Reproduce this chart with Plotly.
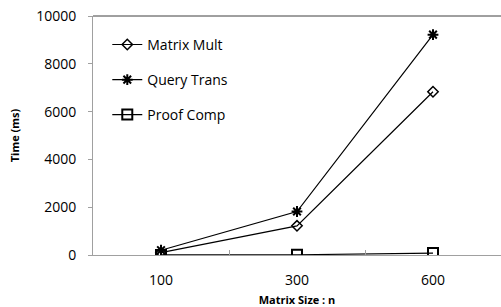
import plotly.graph_objects as go

categories = ["100", "300", "600"]
matrix_mult = [100, 1220, 6830]
query_trans = [200, 1820, 9220]
proof_comp = [5, 10, 80]

font = "Open Sans, Liberation Sans, sans-serif"
fig = go.Figure()
fig.add_trace(go.Scatter(x=categories, y=matrix_mult, name="Matrix Mult", mode="lines+markers",
                         legend="legend",
                         line=dict(color="black", width=1.2),
                         marker=dict(symbol="diamond-open", size=8, color="black", line=dict(width=1.5))))
fig.add_trace(go.Scatter(x=categories, y=query_trans, name="Query Trans", mode="lines+markers",
                         legend="legend2",
                         line=dict(color="black", width=1.2),
                         marker=dict(symbol="asterisk-open", size=9, color="black", line=dict(width=2))))
fig.add_trace(go.Scatter(x=categories, y=proof_comp, name="Proof Comp", mode="lines+markers",
                         legend="legend3",
                         line=dict(color="black", width=1.2),
                         marker=dict(symbol="square-open", size=10, color="black", line=dict(width=2))))

leg = dict(xanchor="left", yanchor="middle", bgcolor="rgba(0,0,0,0)", font=dict(size=14), itemwidth=30)
fig.update_layout(
    width=501, height=307,
    margin=dict(l=93, r=0, t=16, b=52),
    plot_bgcolor="white", paper_bgcolor="white",
    font=dict(family=font, size=14, color="black"),
    showlegend=True,
    legend=dict(leg, x=0.035, y=0.879),
    legend2=dict(leg, x=0.035, y=0.732),
    legend3=dict(leg, x=0.035, y=0.586),
    xaxis=dict(type="category", range=[-0.5, 2.5], showgrid=False, showline=True,
               linecolor="#a0a0a0", linewidth=1, ticks="inside", ticklen=5, tickcolor="#a0a0a0",
               tickson="boundaries", tickfont=dict(size=14), ticklabelstandoff=12,
               title=dict(text="<b>Matrix Size : n</b>", font=dict(size=11), standoff=8)),
    yaxis=dict(range=[0, 10000], dtick=2000, tickformat="d", showgrid=False, showline=True, zeroline=False,
               linecolor="#a0a0a0", linewidth=1, ticks="outside", ticklen=4, tickcolor="#a0a0a0",
               tickfont=dict(size=14), ticklabelstandoff=9,
               title=dict(text="<b>Time (ms)</b>", font=dict(size=11), standoff=14)),
    shapes=[dict(type="line", xref="paper", yref="paper", x0=0, x1=1, y0=1, y1=1,
                 line=dict(color="#404040", width=1))],
)
fig.write_html("out.html", config={"displayModeBar": False},
               post_script="document.body.style.margin='0';")
